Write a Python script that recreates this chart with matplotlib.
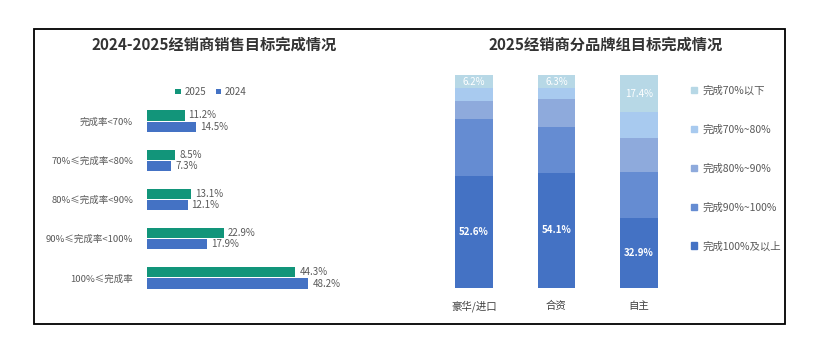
import numpy as np
import matplotlib
matplotlib.use('Agg')
import matplotlib.pyplot as plt
from matplotlib.patches import Rectangle, Patch

plt.rcParams['font.family'] = ['Noto Sans CJK SC', 'DejaVu Sans']

# dealer sales target completion, 2024 vs 2025
rate_bins = ['完成率<70%', '70%≤完成率<80%', '80%≤完成率<90%', '90%≤完成率<100%', '100%≤完成率']
share_2025 = [11.2, 8.5, 13.1, 22.9, 44.3]
share_2024 = [14.5, 7.3, 12.1, 17.9, 48.2]

# 2025 completion by brand group (stacked, bottom to top)
brands = ['豪华/进口', '合资', '自主']
seg_names = ['完成100%及以上', '完成90%~100%', '完成80%~90%', '完成70%~80%', '完成70%以下']
seg_100 = [52.6, 54.1, 32.9]
seg_90 = [26.6, 21.5, 21.5]
seg_80 = [8.6, 13.0, 16.2]
seg_70 = [6.0, 5.1, 12.0]
seg_low = [6.2, 6.3, 17.4]

W, H = 836, 350
green = '#12957a'
blue = '#4472c4'
seg_colors = ['#4472c4', '#658cd2', '#8eaadc', '#a8caef', '#b7d8e6']
txt = '#595959'


def px_rect(x0, y0, x1, y1):
    return [x0 / W, 1 - y1 / H, (x1 - x0) / W, (y1 - y0) / H]


fig = plt.figure(figsize=(W / 100, H / 100), dpi=100)

# frame round the whole panel
fig.patches.append(Rectangle((34 / W, 1 - 324 / H), (785 - 34) / W, (324 - 29) / H,
                             transform=fig.transFigure, fill=False, edgecolor='black', lw=1.3))

fig.text(214 / W, 1 - 45 / H, '2024-2025经销商销售目标完成情况', ha='center', va='center',
         fontsize=11, fontweight='bold', color='#333333')
fig.text(606 / W, 1 - 45 / H, '2025经销商分品牌组目标完成情况', ha='center', va='center',
         fontsize=11, fontweight='bold', color='#333333')

# ---- left: horizontal grouped bars ----
ax = fig.add_axes(px_rect(147, 101.5, 147 + 50 * 3.35, 297.5))
y = np.arange(len(rate_bins))
h = 0.26
b25 = ax.barh(y - 0.145, share_2025, height=h, color=green, label='2025')
b24 = ax.barh(y + 0.145, share_2024, height=h, color=blue, label='2024')
for bars, vals in [(b25, share_2025), (b24, share_2024)]:
    for r, v in zip(bars, vals):
        ax.text(r.get_width() + 1.2, r.get_y() + r.get_height() / 2, f'{v}%',
                va='center', ha='left', fontsize=7, color=txt)
ax.set_xlim(0, 50)
ax.set_ylim(len(rate_bins) - 0.5, -0.5)
ax.set_yticks(y)
ax.set_yticklabels(rate_bins, fontsize=6.8, color=txt)
ax.tick_params(axis='y', length=0, pad=10)
ax.set_xticks([])
for s in ax.spines.values():
    s.set_visible(False)
ax.legend(loc='center', bbox_to_anchor=(211 / W, 1 - 92 / H), bbox_transform=fig.transFigure,
          ncol=2, frameon=False, fontsize=7, handlelength=0.55, handleheight=0.55,
          handletextpad=0.4, columnspacing=1.0, labelcolor=txt)

# ---- right: 100% stacked columns ----
ax2 = fig.add_axes(px_rect(432.75, 75, 680.25, 288))
x = np.arange(len(brands))
stack = [seg_100, seg_90, seg_80, seg_70, seg_low]
bottom = np.zeros(len(brands))
handles = []
for vals, name, c in zip(stack, seg_names, seg_colors):
    ax2.bar(x, vals, bottom=bottom, width=0.46, color=c)
    handles.append(Patch(color=c, label=name))
    bottom += np.array(vals)
for i in range(len(brands)):
    ax2.text(x[i], seg_100[i] / 2, f'{seg_100[i]}%', ha='center', va='center',
             fontsize=7, color='white', fontweight='bold')
    top = 100 - seg_low[i] / 2
    ax2.text(x[i], top, f'{seg_low[i]}%', ha='center', va='center',
             fontsize=7, color='white')
ax2.set_xlim(-0.5, 2.5)
ax2.set_ylim(0, 100)
ax2.set_xticks(x)
ax2.set_xticklabels(brands, fontsize=7.5, color='#404040')
ax2.tick_params(axis='x', length=0, pad=9)
ax2.set_yticks([])
for s in ax2.spines.values():
    s.set_visible(False)

fig.legend(handles=handles[::-1], loc='upper left', bbox_to_anchor=(682 / W, 1 - 76 / H),
           frameon=False, fontsize=7.5, handlelength=0.55, handleheight=0.55,
           handletextpad=0.5, labelspacing=2.75, labelcolor=txt)

fig.savefig('out.png', dpi=100, facecolor='white')
